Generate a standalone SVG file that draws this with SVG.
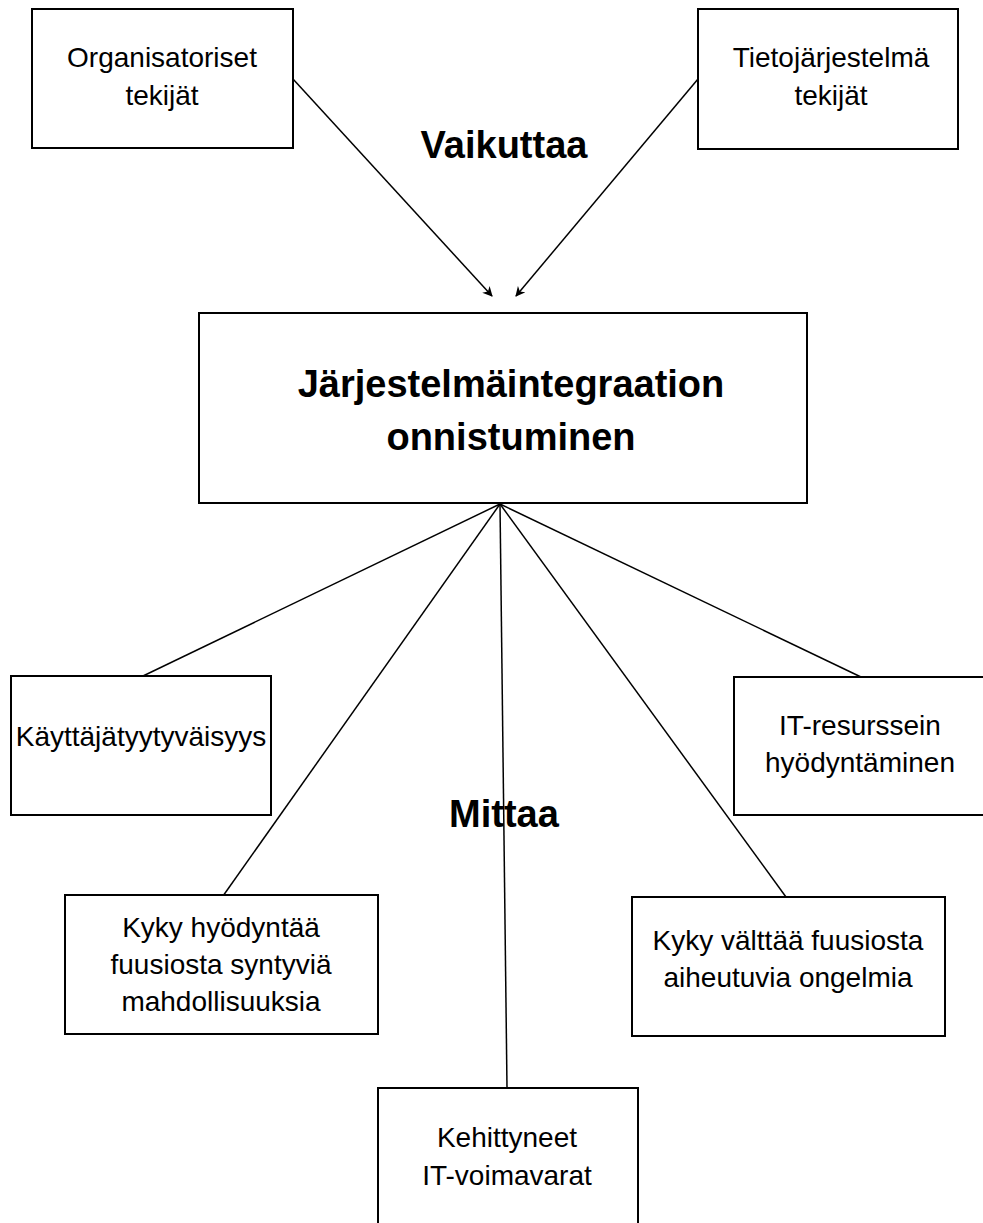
<svg xmlns="http://www.w3.org/2000/svg" width="983" height="1223" viewBox="0 0 983 1223">
<style>
.box{fill:#fff;stroke:#000;stroke-width:2}
.t{font-family:"Liberation Sans",Arial,sans-serif;font-size:28px;fill:#000;text-anchor:middle}
.b{font-family:"Liberation Sans",Arial,sans-serif;font-size:38px;font-weight:bold;fill:#000;text-anchor:middle}
.ln{stroke:#000;stroke-width:1.5;fill:none}
</style>
<defs>
<marker id="ah" viewBox="0 0 10 10" refX="9" refY="5" markerWidth="10" markerHeight="10" markerUnits="userSpaceOnUse" orient="auto">
<path d="M0,0 L10,5 L0,10 L3,5 Z" fill="#000"/>
</marker>
</defs>
<rect width="983" height="1223" fill="#fff"/>
<g id="connectors">
<line class="ln" x1="293" y1="79" x2="492" y2="296" marker-end="url(#ah)"/>
<line class="ln" x1="698" y1="79" x2="516" y2="296" marker-end="url(#ah)"/>
<line class="ln" x1="500" y1="504" x2="143" y2="676"/>
<line class="ln" x1="500" y1="504" x2="223" y2="896"/>
<line class="ln" x1="500" y1="504" x2="507" y2="1088"/>
<line class="ln" x1="500" y1="504" x2="786" y2="897"/>
<line class="ln" x1="500" y1="504" x2="861" y2="677"/>
</g>
<g id="n-org">
<rect class="box" x="32" y="9" width="261" height="139"/>
<text class="t" x="162" y="67">Organisatoriset</text>
<text class="t" x="162" y="105">tekijät</text>
</g>
<g id="n-tj">
<rect class="box" x="698" y="9" width="260" height="140"/>
<text class="t" x="831" y="67">Tietojärjestelmä</text>
<text class="t" x="831" y="105">tekijät</text>
</g>
<g id="n-main">
<rect class="box" x="199" y="313" width="608" height="190"/>
<text class="b" x="511" y="397">Järjestelmäintegraation</text>
<text class="b" x="511" y="450">onnistuminen</text>
</g>
<g id="n-kt">
<rect class="box" x="11" y="676" width="260" height="139"/>
<text class="t" x="141" y="746">Käyttäjätyytyväisyys</text>
</g>
<g id="n-it">
<rect class="box" x="734" y="677" width="260" height="138"/>
<text class="t" x="860" y="735">IT-resurssein</text>
<text class="t" x="860" y="772">hyödyntäminen</text>
</g>
<g id="n-kh">
<rect class="box" x="65" y="895" width="313" height="139"/>
<text class="t" x="221" y="937">Kyky hyödyntää</text>
<text class="t" x="221" y="974">fuusiosta syntyviä</text>
<text class="t" x="221" y="1011">mahdollisuuksia</text>
</g>
<g id="n-kv">
<rect class="box" x="632" y="897" width="313" height="139"/>
<text class="t" x="788" y="950">Kyky välttää fuusiosta</text>
<text class="t" x="788" y="987">aiheutuvia ongelmia</text>
</g>
<g id="n-ke">
<rect class="box" x="378" y="1088" width="260" height="150"/>
<text class="t" x="507" y="1147">Kehittyneet</text>
<text class="t" x="507" y="1185">IT-voimavarat</text>
</g>
<g id="labels">
<text class="b" x="504" y="158">Vaikuttaa</text>
<text class="b" x="504" y="827">Mittaa</text>
</g>
</svg>
